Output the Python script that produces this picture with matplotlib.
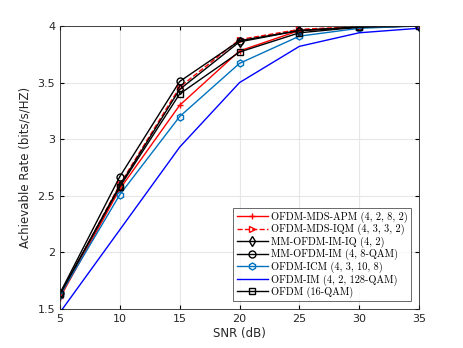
import matplotlib
matplotlib.use("Agg")
import matplotlib.pyplot as plt

snr = [5, 10, 15, 20, 25, 30, 35]
apm = [1.60, 2.56, 3.30, 3.78, 3.96, 3.99, 4.00]
iqm = [1.62, 2.60, 3.46, 3.88, 3.97, 3.995, 4.00]
mm_iq = [1.63, 2.59, 3.44, 3.86, 3.96, 3.99, 4.00]
mm_im = [1.64, 2.67, 3.51, 3.87, 3.96, 3.99, 4.00]
icm = [1.62, 2.51, 3.20, 3.67, 3.91, 3.98, 4.00]
im = [1.47, 2.20, 2.93, 3.50, 3.82, 3.94, 3.98]
ofdm = [1.63, 2.58, 3.40, 3.77, 3.94, 3.99, 4.00]

labels = ["OFDM-MDS-APM (4, 2, 8, 2)", "OFDM-MDS-IQM (4, 3, 3, 2)",
          "MM-OFDM-IM-IQ (4, 2)", "MM-OFDM-IM (4, 8-QAM)",
          "OFDM-ICM (4, 3, 10, 8)", "OFDM-IM (4, 2, 128-QAM)", "OFDM (16-QAM)"]

fig = plt.figure(figsize=(4.63, 3.48), dpi=100)
ax = fig.add_axes([60/463, 1-309/348, 359/463, 283/348])

mk = dict(markersize=5, markerfacecolor='none', linewidth=1.0)
ax.plot(snr, apm, color='#FF0000', marker='+', label=labels[0], **mk)
ax.plot(snr, iqm, color='#FF0000', linestyle='--', marker='>', label=labels[1], **mk)
ax.plot(snr, mm_iq, color='black', marker='d', label=labels[2], **mk)
ax.plot(snr, mm_im, color='black', marker='o', label=labels[3], **mk)
ax.plot(snr, icm, color='#0072BD', marker='h', label=labels[4], **mk)
ax.plot(snr, im, color='#0000FF', label=labels[5], linewidth=1.0)
ax.plot(snr, ofdm, color='black', marker='s', label=labels[6], **mk)

ax.set_xlim(5, 35)
ax.set_ylim(1.5, 4)
ax.set_xticks([5, 10, 15, 20, 25, 30, 35])
ax.set_yticks([1.5, 2, 2.5, 3, 3.5, 4])
ax.set_yticklabels(['1.5', '2', '2.5', '3', '3.5', '4'])
ax.grid(True, color='#E6E6E6', linewidth=0.8)
ax.set_axisbelow(True)
ax.tick_params(direction='in', labelsize=8, length=3, top=True, right=True,
               labelcolor='#262626')
for s in ax.spines.values():
    s.set_color('#262626')
    s.set_linewidth(0.6)
ax.set_xlabel('SNR (dB)', fontsize=8.5, labelpad=2, color='#262626')
ax.set_ylabel('Achievable Rate (bits/s/HZ)', fontsize=8.5, labelpad=4, color='#262626')

leg = ax.legend(loc='lower right', prop={'family': 'cmr10', 'size': 7.4},
                frameon=True, fancybox=False, edgecolor='#262626',
                borderpad=0.3, labelspacing=0.12, handlelength=3.1,
                handletextpad=0.3, borderaxespad=0.75)
leg.get_frame().set_linewidth(0.6)

fig.savefig('out.png', dpi=100)
